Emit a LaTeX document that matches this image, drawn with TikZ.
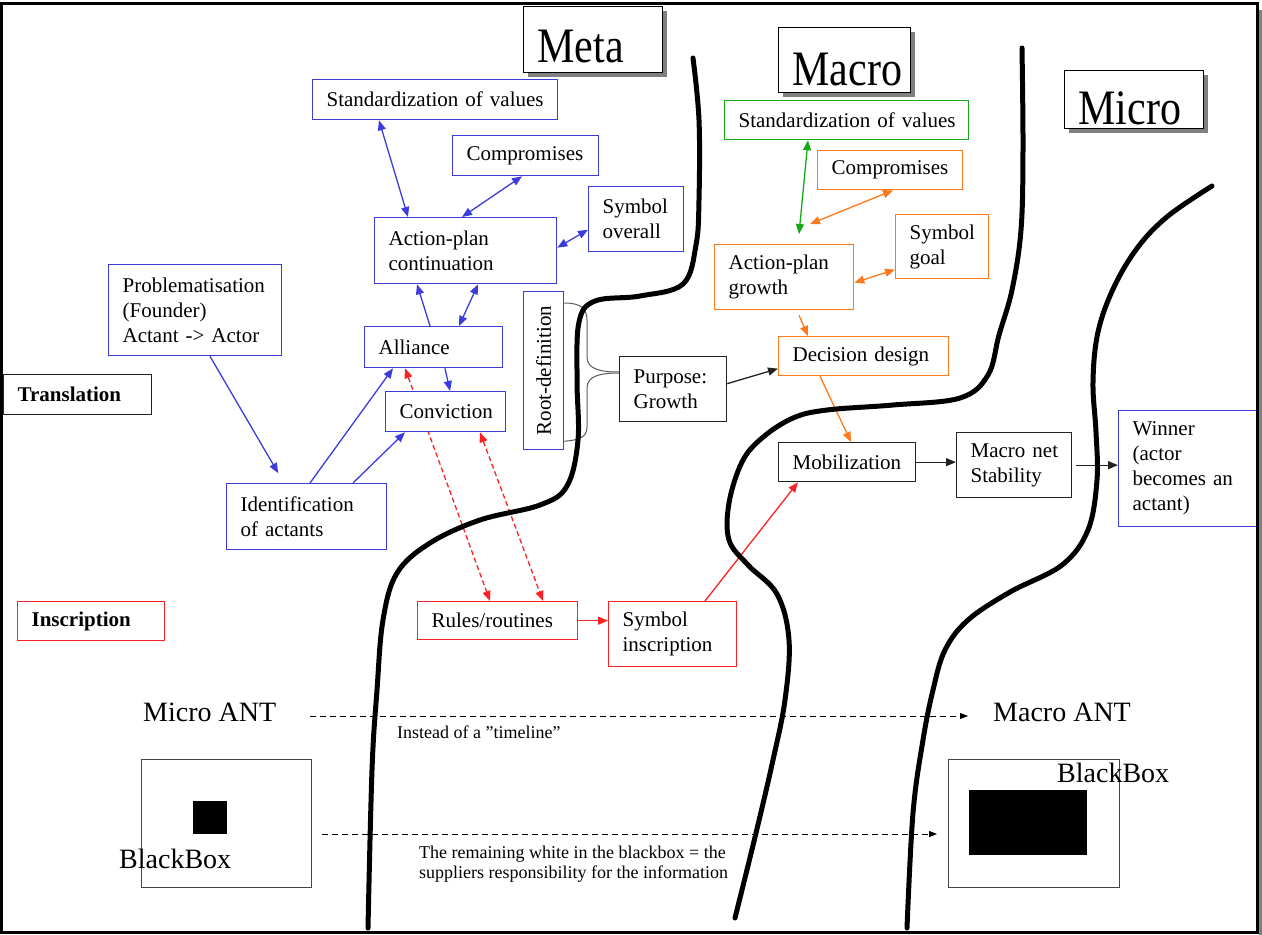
\documentclass[tikz,border=0pt]{standalone}
\usepackage{fontspec}
\setmainfont{Liberation Serif}
\usepackage{graphicx}
\usetikzlibrary{arrows.meta,shadows}
\pgfdeclarelayer{links}
\pgfdeclarelayer{borders}
\pgfsetlayers{links,borders,main}

\definecolor{planblue}{RGB}{60,60,220}
\definecolor{inkred}{RGB}{250,35,35}
\definecolor{inkorange}{RGB}{255,122,30}
\definecolor{inkgreen}{RGB}{20,170,20}
\definecolor{inkdark}{RGB}{35,35,35}
\definecolor{headshade}{RGB}{128,128,128}
\definecolor{bracegray}{RGB}{90,90,90}
\definecolor{framegray}{RGB}{70,70,70}

% no hyphenation inside the boxes
\hyphenpenalty=10000
\exhyphenpenalty=10000

\newcommand\boxfont{\fontsize{21}{25}\selectfont}
\newcommand\headfont{\fontsize{42}{48}\selectfont}
\newcommand\antfont{\fontsize{28}{32}\selectfont}
\newcommand\notefont{\fontsize{18}{20}\selectfont}

\tikzset{
  box/.style={draw=#1, fill=white, line width=1.3pt, inner xsep=14pt, inner ysep=0pt,
    align=left, anchor=north west, font=\boxfont},
  head/.style={draw=black, fill=white, line width=1.3pt, inner xsep=14pt, inner ysep=0pt,
    align=left, anchor=north west, font=\headfont,
    drop shadow={shadow xshift=4pt, shadow yshift=-4pt, fill=headshade, opacity=1}},
  link/.style={draw=#1, line width=1.3pt},
  one/.style={-{Triangle[length=10pt,width=8pt]}},
  two/.style={{Triangle[length=10pt,width=8pt]}-{Triangle[length=10pt,width=8pt]}},
  dashlink/.style={dash pattern=on 5pt off 3pt},
  brace/.style={draw=bracegray, line width=1pt},
  note/.style={anchor=base west, inner sep=0pt},
  timearrow/.style={draw=black, line width=1pt, dash pattern=on 6pt off 4pt,
    -{Triangle[length=8pt,width=6pt]}},
  border/.style={line width=5pt, line cap=round, line join=round},
  core/.style={fill=black, inner sep=0pt, anchor=north west},
  shell/.style={draw=framegray, line width=1.3pt, inner sep=0pt, anchor=north west}
}

\begin{document}
\begin{tikzpicture}[x=1pt, y=-1pt]
\useasboundingbox (0,0) rectangle (1262,935);

% level headers
\node[head, minimum width=139pt, text width=111pt, text height=56pt, text depth=10pt] (meta) at (523,6) {\scalebox{1}[1.18]{Meta}};
\node[head, minimum width=132pt, text width=104pt, text height=58pt, text depth=7pt] (macro) at (778,27) {\scalebox{1}[1.18]{Macro}};
\node[head, minimum width=139pt, text width=111pt, text height=54pt, text depth=4pt] (micro) at (1064,70) {\scalebox{1}[1.18]{Micro}};

% meta level (blue)
\node[box=planblue, minimum width=245pt, minimum height=40pt, text width=217pt] (stdA) at (312,79) {\mbox{Standardization of values}};
\node[box=planblue, minimum width=146pt, minimum height=40pt, text width=118pt] (compA) at (452,135) {Compromises};
\node[box=planblue, minimum width=95pt, minimum height=65pt, text width=67pt] (symA) at (588,186) {Symbol\\overall};
\node[box=planblue, minimum width=182pt, minimum height=66pt, text width=154pt] (apc) at (374,217) {Action-plan\\continuation};
\node[box=planblue, minimum width=173pt, minimum height=91pt, text width=145pt] (prob) at (108,264) {Problematisation\\(Founder)\\\mbox{Actant -> Actor}};
\node[box=planblue, minimum width=138pt, minimum height=41pt, text width=110pt] (alli) at (364,326) {Alliance};
\node[box=planblue, minimum width=120pt, minimum height=40pt, text width=92pt] (conv) at (385,391) {Conviction};
\node[box=planblue, minimum width=160pt, minimum height=66pt, text width=132pt] (ident) at (226,483) {Identification\\of actants};
\node[box=planblue, minimum width=40pt, minimum height=158pt, inner xsep=0pt, align=center] (root) at (523,291) {\rotatebox{90}{Root-definition}};
\node[box=planblue, minimum width=140pt, minimum height=116pt, text width=112pt] (winner) at (1118,410) {Winner\\(actor\\\mbox{becomes an}\\actant)};

% category labels
\node[box=inkdark, font=\boxfont\bfseries, minimum width=148pt, minimum height=40pt, text width=120pt] (transl) at (3,374) {Translation};
\node[box=inkred, font=\boxfont\bfseries, minimum width=147pt, minimum height=39pt, text width=119pt] (inscr) at (17,601) {Inscription};

% inscription (red)
\node[box=inkred, minimum width=160pt, minimum height=38pt, text width=132pt] (rules) at (417,601) {Rules/routines};
\node[box=inkred, minimum width=128pt, minimum height=65pt, text width=100pt] (syminsc) at (608,601) {Symbol\\inscription};

% macro level (orange / green / black)
\node[box=inkgreen, minimum width=244pt, minimum height=39pt, text width=216pt] (stdB) at (724,100) {\mbox{Standardization of values}};
\node[box=inkorange, minimum width=145pt, minimum height=39pt, text width=117pt] (compB) at (817,150) {Compromises};
\node[box=inkorange, minimum width=93pt, minimum height=64pt, text width=65pt] (symB) at (895,214) {Symbol\\goal};
\node[box=inkorange, minimum width=139pt, minimum height=65pt, text width=111pt] (apg) at (714,244) {Action-plan\\growth};
\node[box=inkorange, minimum width=170pt, minimum height=39pt, text width=142pt] (dec) at (778,336) {\mbox{Decision design}};
\node[box=inkdark, minimum width=107pt, minimum height=65pt, text width=79pt] (purpose) at (619,356) {Purpose:\\Growth};
\node[box=inkdark, minimum width=137pt, minimum height=39pt, text width=109pt] (mobil) at (778,442) {Mobilization};
\node[box=inkdark, minimum width=115pt, minimum height=65pt, text width=87pt] (macnet) at (956,432) {\mbox{Macro net}\\Stability};

% black boxes
\node[shell, minimum width=170pt, minimum height=128pt] (bbL) at (141,759) {};
\node[core, minimum width=34pt, minimum height=33pt] (coreL) at (193,801) {};
\node[shell, minimum width=171pt, minimum height=128pt] (bbR) at (948,759) {};
\node[core, minimum width=118pt, minimum height=65pt] (coreR) at (969,790) {};
\node[note, font=\antfont] (bbtextL) at (119,868) {BlackBox};
\node[note, font=\antfont] (bbtextR) at (1057,782) {BlackBox};

% scale labels and notes
\node[note, font=\antfont] (microant) at (143,721) {Micro ANT};
\node[note, font=\antfont] (macroant) at (993,721) {Macro ANT};
\node[note, font=\notefont] (timeline) at (397,738) {Instead of a ”timeline”};
\node[note, font=\notefont, align=left] (whitenote) at (419,878) {The remaining white in the blackbox = the\\suppliers responsibility for the information};
\coordinate (antL) at (310,716);
\coordinate (antR) at (968,716);
\coordinate (whiteL) at (322,834);

\begin{pgfonlayer}{links}
  % blue links
  \draw[link=planblue, two] ([xshift=67pt]stdA.south west) -- ([xshift=34pt]apc.north west);
  \draw[link=planblue, two] ([xshift=70pt]compA.south west) -- ([xshift=88pt]apc.north west);
  \draw[link=planblue, two] ([yshift=-10.5pt]symA.west) -- ([yshift=3pt]apc.east);
  \draw[link=planblue, one] ([xshift=66pt]alli.north west) -- ([xshift=43pt]apc.south west);
  \draw[link=planblue, two] ([xshift=95pt]alli.north west) -- ([xshift=104pt]apc.south west);
  \draw[link=planblue, one] ([xshift=81pt]alli.south west) -- ([xshift=65pt]conv.north west);
  \draw[link=planblue, one, shorten >=11.5pt] ([xshift=102pt]prob.south west) -- ([xshift=58pt]ident.north west);
  \draw[link=planblue, one] ([xshift=84pt]ident.north west) -- ([xshift=29pt]alli.south west);
  \draw[link=planblue, one] ([xshift=127pt]ident.north west) -- ([xshift=20pt]conv.south west);
  % red links
  \draw[link=inkred, two, dashlink] ([xshift=41pt]alli.south west) -- ([xshift=73pt]rules.north west);
  \draw[link=inkred, two, dashlink] ([xshift=95pt]conv.south west) -- ([xshift=126pt]rules.north west);
  \draw[link=inkred, one] (rules.east) -- (rules.east -| syminsc.west);
  \draw[link=inkred, one] ([xshift=97pt]syminsc.north west) -- ([xshift=20pt]mobil.south west);
  % orange and green links
  \draw[link=inkgreen, two] ([xshift=84pt]stdB.south west) -- ([xshift=85pt,yshift=10pt]apg.north west);
  \draw[link=inkorange, two] ([xshift=76pt]compB.south west) -- ([xshift=96pt,yshift=20pt]apg.north west);
  \draw[link=inkorange, two] ([yshift=-23pt]symB.west) -- ([yshift=-5.5pt]apg.east);
  \draw[link=inkorange, one] ([xshift=85pt,yshift=-5pt]apg.south west) -- ([xshift=30pt]dec.north west);
  \draw[link=inkorange, one] ([xshift=42pt]dec.south west) -- ([xshift=73pt]mobil.north west);
  % black links
  \draw[link=inkdark, one] ([yshift=5.5pt]purpose.east) -- ([yshift=-12.5pt]dec.west);
  \draw[link=inkdark, one] (mobil.east) -- (mobil.east -| macnet.west);
  \draw[link=inkdark, one, shorten <=4pt] (macnet.east) -- (macnet.east -| winner.west);
  % root definition brace
  \draw[brace] ([yshift=-12pt]root.north east) .. controls (580,303) and (587,308) .. (587,320)
    -- (587,357) .. controls (587,369) and (600,372) .. ([yshift=-16pt]purpose.north west);
  \draw[brace] ([yshift=-17pt]purpose.north west) .. controls (600,373) and (587,376) .. (587,388)
    -- (587,427) .. controls (587,438) and (578,440) .. ([yshift=9pt]root.south east);
  % scale arrows
  \draw[timearrow] (antL) -- (antR);
  \draw[timearrow, shorten >=11pt] (whiteL) -- (whiteL -| bbR.west);
\end{pgfonlayer}

\begin{pgfonlayer}{borders}
  \draw[border] plot[smooth, tension=0.6] coordinates {(693,58) (699,120) (699,200) (696,245)
    (683,284) (640,296) (595,301) (579,322) (577,380) (578,440) (567,486) (540,505) (480,520)
    (430,543) (397,573) (383,620) (377,690) (372,770) (368,928)};
  \draw[border] plot[smooth, tension=0.6] coordinates {(1022,48) (1023,150) (1021,230) (1012,290)
    (999,335) (988,375) (960,398) (893,405) (827,410) (793,418) (762,438) (742,462) (729,503)
    (729,540) (748,565) (777,594) (789,640) (785,700) (773,760) (756,833) (735,918)};
  \draw[border] plot[smooth, tension=0.6] coordinates {(1212,186) (1168,216) (1138,247) (1114,287)
    (1098,332) (1093,382) (1096,432) (1097,480) (1088,530) (1062,565) (1010,592) (968,620)
    (945,650) (933,690) (923,740) (913,813) (907,928)};
\end{pgfonlayer}

% page frame
\fill[headshade] (1258.5,10) rectangle (1262,935);
\draw[line width=3pt] (1.5,3.5) rectangle (1257,932.5);
\end{tikzpicture}
\end{document}
